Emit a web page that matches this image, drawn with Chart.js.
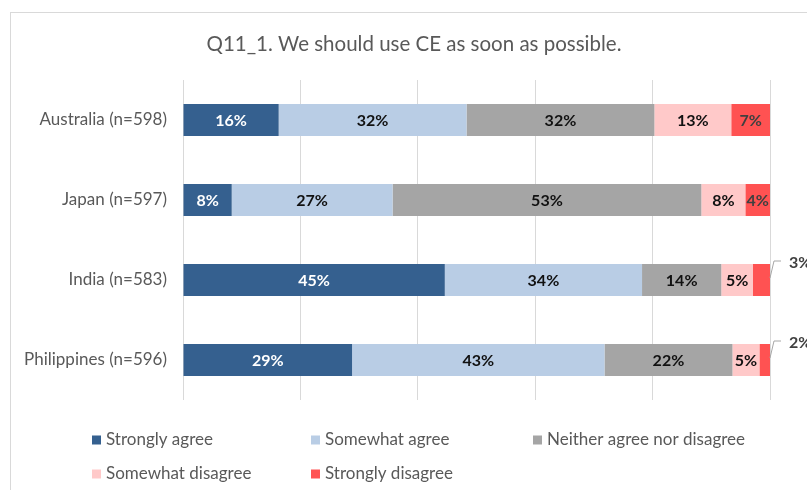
<!DOCTYPE html>
<html><head><meta charset="utf-8">
<script src="https://cdn.jsdelivr.net/npm/chart.js@4.4.1/dist/chart.umd.min.js"></script>
<style>html,body{margin:0;padding:0;background:#fff;overflow:hidden;}#wrap{position:relative;width:807px;height:490px;}</style>
</head><body><div id="wrap"><canvas id="c" width="807" height="490"></canvas></div>
<script>
// Survey responses, share of respondents (%) per country
const categories = ['Australia (n=598)', 'Japan (n=597)', 'India (n=583)', 'Philippines (n=596)'];
const seriesNames = ['Strongly agree', 'Somewhat agree', 'Neither agree nor disagree', 'Somewhat disagree', 'Strongly disagree'];
const stronglyAgree    = [16.3,  8.3, 44.6, 28.8];
const somewhatAgree    = [32.0, 27.4, 33.6, 43.0];
const neitherAgree     = [32.0, 52.6, 13.5, 21.8];
const somewhatDisagree = [13.1,  7.5,  5.4,  4.6];
const stronglyDisagree = [ 6.6,  4.2,  2.9,  1.8];
const xTicks = [0, 20, 40, 60, 80, 100];
const titleText = 'Q11_1. We should use CE as soon as possible.';

const fills = ['#35608f', '#b9cde5', '#a5a5a5', '#ffc9c9', '#ff5252'];
const labelColors = ['#ffffff', '#111111', '#111111', '#111111', '#404040'];
const FONT = 'Lato, "Open Sans", sans-serif';

const seriesValues = [stronglyAgree, somewhatAgree, neitherAgree, somewhatDisagree, stronglyDisagree];
const datasets = seriesNames.map((name, i) => ({
  label: name,
  data: seriesValues[i],
  backgroundColor: fills[i],
  borderWidth: 0,
  barPercentage: 0.4,
  categoryPercentage: 1.0
}));

// frame, title, value labels and legend
const decor = {
  id: 'decor',
  beforeDraw(chart) {
    const ctx = chart.ctx;
    ctx.save();
    ctx.strokeStyle = '#d9d9d9';
    ctx.lineWidth = 1;
    ctx.strokeRect(10.5, 12.5, 900, 600);
    ctx.fillStyle = '#595959';
    ctx.font = '20.5px ' + FONT;
    ctx.textAlign = 'center';
    ctx.textBaseline = 'middle';
    ctx.fillText(titleText, 414, 44);
    ctx.restore();
  },
  afterDatasetsDraw(chart) {
    const ctx = chart.ctx;
    ctx.save();
    ctx.font = 'bold 16px ' + FONT;
    ctx.textBaseline = 'middle';
    chart.data.datasets.forEach((ds, di) => {
      const meta = chart.getDatasetMeta(di);
      meta.data.forEach((bar, i) => {
        const v = ds.data[i];
        const txt = Math.round(v) + '%';
        const w = Math.abs(bar.x - bar.base);
        if (w >= 20) {
          ctx.fillStyle = labelColors[di];
          ctx.textAlign = 'center';
          ctx.fillText(txt, (bar.x + bar.base) / 2, bar.y + 1);
        } else {
          // small segment: label placed outside with a leader line
          const x0 = (bar.x + bar.base) / 2 + w / 2;
          ctx.strokeStyle = '#a6a6a6';
          ctx.lineWidth = 1;
          ctx.beginPath();
          ctx.moveTo(x0, bar.y - 2);
          ctx.lineTo(x0 + 4, bar.y - 19);
          ctx.lineTo(x0 + 11, bar.y - 19);
          ctx.stroke();
          ctx.fillStyle = '#404040';
          ctx.textAlign = 'left';
          ctx.fillText(txt, x0 + 19, bar.y - 17);
        }
      });
    });
    ctx.restore();
  },
  afterDraw(chart) {
    const ctx = chart.ctx;
    const cols = [92, 311, 533];
    const rows = [440, 474];
    ctx.save();
    ctx.font = '17px ' + FONT;
    ctx.textBaseline = 'middle';
    ctx.textAlign = 'left';
    chart.data.datasets.forEach((ds, i) => {
      const x = cols[i % 3];
      const y = rows[Math.floor(i / 3)];
      ctx.fillStyle = ds.backgroundColor;
      ctx.fillRect(x, y - 4.5, 9, 9);
      ctx.fillStyle = '#595959';
      ctx.fillText(ds.label, x + 14, y);
    });
    ctx.restore();
  }
};

new Chart(document.getElementById('c'), {
  type: 'bar',
  data: { labels: categories, datasets: datasets },
  options: {
    indexAxis: 'y',
    responsive: false,
    animation: false,
    layout: { padding: { left: 0, right: 37, top: 80, bottom: 90 } },
    plugins: { legend: { display: false }, title: { display: false }, tooltip: { enabled: false } },
    scales: {
      x: {
        stacked: true,
        min: xTicks[0],
        max: xTicks[xTicks.length - 1],
        afterBuildTicks(scale) { scale.ticks = xTicks.map(v => ({ value: v })); },
        afterFit(scale) { scale.height = 0; },
        ticks: { display: false },
        border: { display: false },
        grid: { color: '#d9d9d9', lineWidth: 1, drawTicks: false }
      },
      y: {
        stacked: true,
        afterFit(scale) { scale.width = 183; },
        grid: { display: false, drawTicks: false },
        border: { display: false },
        ticks: { color: '#595959', font: { family: FONT, size: 17 }, padding: 16 }
      }
    }
  },
  plugins: [decor]
});
</script>
</body></html>
